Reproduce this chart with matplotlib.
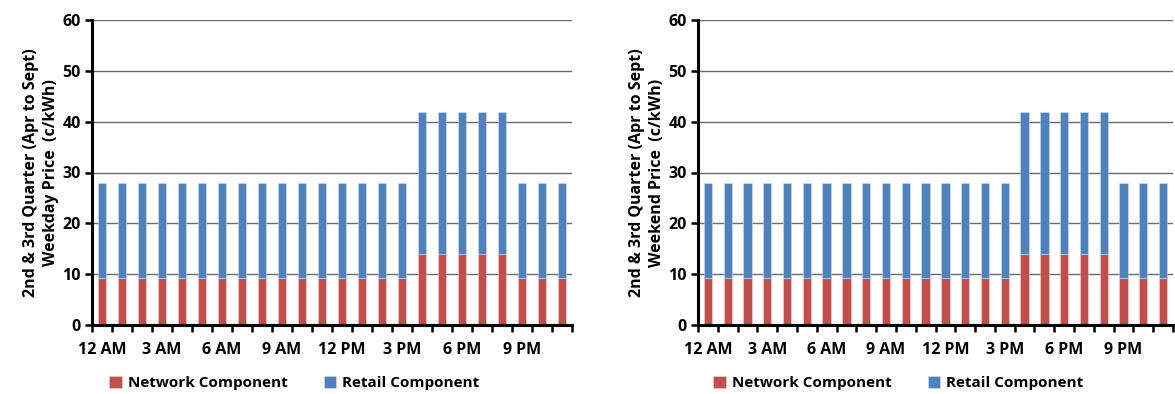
import matplotlib
matplotlib.use('Agg')
import matplotlib.pyplot as plt
from matplotlib.ticker import FixedLocator, MultipleLocator

# Hourly price components (c/kWh), 24 hours starting 12 AM
hours = list(range(24))
network = [9.3] * 16 + [14.0] * 5 + [9.3] * 3
retail = [18.7] * 16 + [28.0] * 5 + [18.7] * 3
hour_labels = ["12 AM", "3 AM", "6 AM", "9 AM", "12 PM", "3 PM", "6 PM", "9 PM"]
panel_labels = [
    "2nd & 3rd Quarter (Apr to Sept)\nWeekday Price  (c/kWh)",
    "2nd & 3rd Quarter (Apr to Sept)\nWeekend Price  (c/kWh)",
]

RED = "#C0504D"
BLUE = "#4F81BD"

plt.rcParams['font.family'] = ['Open Sans', 'DejaVu Sans']
plt.rcParams['font.weight'] = 'bold'

fig = plt.figure(figsize=(11.75, 3.94), dpi=100)
rects = [
    [92 / 1175, 69 / 394, 480 / 1175, 305 / 394],
    [698 / 1175, 69 / 394, 475 / 1175, 305 / 394],
]

for rect, ylabel in zip(rects, panel_labels):
    ax = fig.add_axes(rect)
    ax.bar(hours, network, width=0.42, color=RED, edgecolor="#f0d0d0",
           linewidth=0.4, label="Network Component", zorder=3)
    ax.bar(hours, retail, bottom=network, width=0.42, color=BLUE,
           edgecolor="#d0def0", linewidth=0.4, label="Retail Component", zorder=3)

    ax.set_xlim(-0.5, 23.5)
    ax.set_ylim(0, 60)
    ax.yaxis.set_major_locator(MultipleLocator(10))
    ax.yaxis.grid(True, color="#6a6a6a", linewidth=1.0, zorder=0)

    # tick marks between categories, labels every 3 hours
    ax.xaxis.set_major_locator(FixedLocator([h - 0.5 for h in range(25)]))
    ax.xaxis.set_minor_locator(FixedLocator(hours[::3]))
    ax.xaxis.set_minor_formatter(plt.FixedFormatter(hour_labels))
    ax.xaxis.set_major_formatter(plt.NullFormatter())
    ax.tick_params(axis='x', which='major', direction='out', length=5, width=1.8)
    ax.tick_params(axis='x', which='minor', length=0, pad=12, labelsize=11.5)
    ax.tick_params(axis='y', direction='out', length=5, width=1.8, labelsize=11.5, pad=3)
    for lbl in ax.get_xticklabels(minor=True) + ax.get_yticklabels():
        lbl.set_fontweight('bold')

    for side in ("top", "right"):
        ax.spines[side].set_visible(False)
    for side in ("left", "bottom"):
        ax.spines[side].set_linewidth(2.2)
        ax.spines[side].set_zorder(4)

    ax.set_ylabel(ylabel, fontsize=11.5, fontweight='bold', labelpad=2.5,
                  linespacing=1.3)

    ax.legend(loc="center", bbox_to_anchor=(0.422, -0.19), ncol=2, frameon=False,
              prop={'size': 11, 'weight': 'bold'}, handlelength=0.8,
              handleheight=0.8, columnspacing=2.4, handletextpad=0.4)

fig.savefig("out.png", dpi=100)
